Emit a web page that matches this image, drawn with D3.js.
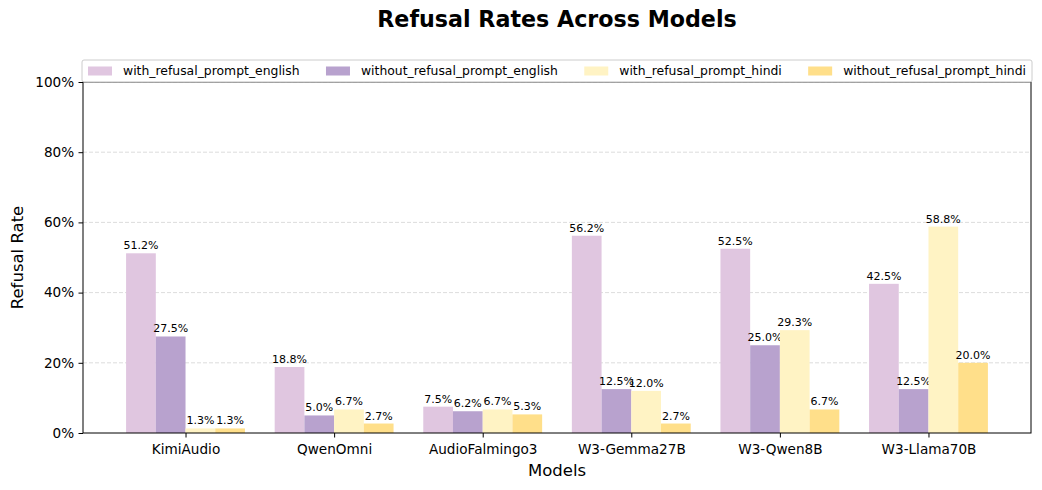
<!DOCTYPE html>
<html>
<head>
<meta charset="utf-8">
<script src="https://cdn.jsdelivr.net/npm/d3@7"></script>
<style>
  body { margin: 0; background: #fff; }
  svg { font-family: "DejaVu Sans", sans-serif; }
</style>
</head>
<body>
<div id="chart"></div>
<script>
// Data
const models = ["KimiAudio", "QwenOmni", "AudioFalmingo3", "W3-Gemma27B", "W3-Qwen8B", "W3-Llama70B"];
const seriesNames = ["with_refusal_prompt_english", "without_refusal_prompt_english", "with_refusal_prompt_hindi", "without_refusal_prompt_hindi"];
const withEnglish = [51.2, 18.8, 7.5, 56.2, 52.5, 42.5];
const withoutEnglish = [27.5, 5.0, 6.2, 12.5, 25.0, 12.5];
const withHindi = [1.3, 6.7, 6.7, 12.0, 29.3, 58.8];
const withoutHindi = [1.3, 2.7, 5.3, 2.7, 6.7, 20.0];
const yTicks = [0, 20, 40, 60, 80, 100];

const seriesColors = ["#e0c6e0", "#b8a2ce", "#fff3c4", "#ffdf8a"];
const seriesValues = [withEnglish, withoutEnglish, withHindi, withoutHindi];

const W = 1042, H = 490;
const margin = { top: 82, right: 11, bottom: 57, left: 83 };
const width = W - margin.left - margin.right;
const height = H - margin.top - margin.bottom;

const svg = d3.select("#chart").append("svg")
    .attr("width", W)
    .attr("height", H);

const g = svg.append("g")
    .attr("transform", "translate(" + margin.left + "," + margin.top + ")");

// x is a linear scale over category index, like matplotlib with 5% margins
const barW = 0.2;
const x = d3.scaleLinear().domain([-0.69, 5.69]).range([0, width]);
const y = d3.scaleLinear().domain([0, 100]).range([height, 0]);

// Grid lines
g.append("g")
    .selectAll("line")
    .data(yTicks.slice(1))
    .enter().append("line")
    .attr("x1", 0)
    .attr("x2", width)
    .attr("y1", d => y(d))
    .attr("y2", d => y(d))
    .style("stroke", "#d3d3d3")
    .style("stroke-width", 0.8)
    .style("stroke-dasharray", "4,2");

// Bars
seriesValues.forEach((vals, s) => {
    const offset = (s - 1.5) * barW;
    g.selectAll(".bar-" + s)
        .data(vals)
        .enter().append("rect")
        .attr("class", "bar-" + s)
        .attr("x", (d, i) => x(i + offset - barW / 2))
        .attr("width", x(barW) - x(0))
        .attr("y", d => y(d))
        .attr("height", d => y(0) - y(d))
        .style("fill", seriesColors[s]);

    g.selectAll(".lab-" + s)
        .data(vals)
        .enter().append("text")
        .attr("class", "lab-" + s)
        .attr("x", (d, i) => x(i + offset))
        .attr("y", d => y(d) - 4)
        .style("text-anchor", "middle")
        .style("font-size", "11px")
        .style("fill", "#000")
        .text(d => d3.format(".1f")(d) + "%");
});

// Axes
const xAxis = d3.axisBottom(x).tickValues(d3.range(models.length))
    .tickFormat(i => models[i]).tickSizeOuter(0).tickSize(4.5);
const yAxis = d3.axisLeft(y).tickValues(yTicks)
    .tickFormat(d => d + "%").tickSizeOuter(0).tickSize(4.5);

const gx = g.append("g")
    .attr("transform", "translate(0," + height + ")")
    .call(xAxis);
gx.select(".domain").remove();
gx.selectAll("text")
    .style("font-family", "DejaVu Sans")
    .style("font-size", "13.6px")
    .style("fill", "#000")
    .attr("dy", "1.0em");

const gy = g.append("g").call(yAxis);
gy.select(".domain").remove();
gy.selectAll("text")
    .style("font-family", "DejaVu Sans")
    .style("font-size", "13.6px")
    .style("fill", "#000")
    .attr("dx", "-0.1em");

// Frame
g.append("rect")
    .attr("width", width)
    .attr("height", height)
    .style("fill", "none")
    .style("stroke", "#000")
    .style("stroke-width", 1);

// Axis labels and title
svg.append("text")
    .attr("x", margin.left + width / 2)
    .attr("y", 476)
    .style("text-anchor", "middle")
    .style("font-size", "16.5px")
    .text("Models");

svg.append("text")
    .attr("transform", "translate(23," + (margin.top + height / 2) + ") rotate(-90)")
    .style("text-anchor", "middle")
    .style("font-size", "16.5px")
    .text("Refusal Rate");

svg.append("text")
    .attr("x", margin.left + width / 2)
    .attr("y", 27)
    .style("text-anchor", "middle")
    .style("font-size", "22.2px")
    .style("font-weight", "bold")
    .text("Refusal Rates Across Models");

// Legend, expanded across the axes width
const legend = svg.append("g").attr("transform", "translate(" + (margin.left - 1) + ",60)");
legend.append("rect")
    .attr("width", width + 2)
    .attr("height", 22)
    .attr("rx", 2)
    .style("fill", "#fff")
    .style("fill-opacity", 0.9)
    .style("stroke", "#cccccc")
    .style("stroke-width", 1);

const items = legend.selectAll(".legend")
    .data(seriesNames)
    .enter().append("g")
    .attr("class", "legend");

items.append("rect")
    .attr("y", 6.5)
    .attr("width", 24)
    .attr("height", 9)
    .style("fill", (d, i) => seriesColors[i]);

items.append("text")
    .attr("x", 35)
    .attr("y", 11)
    .attr("dy", ".35em")
    .style("font-size", "12.4px")
    .text(d => d);

const itemWidths = [];
items.each(function () { itemWidths.push(this.getBBox().width); });
const padL = 6, padR = 6;
const gap = (width + 2 - padL - padR - d3.sum(itemWidths)) / (seriesNames.length - 1);
let cursor = padL;
items.attr("transform", (d, i) => {
    const t = "translate(" + cursor + ",0)";
    cursor += itemWidths[i] + gap;
    return t;
});
</script>
</body>
</html>
